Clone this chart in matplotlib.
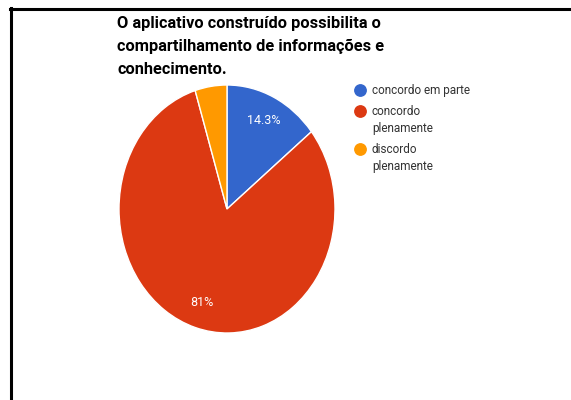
import matplotlib.pyplot as plt
from matplotlib.lines import Line2D

# data
labels = ['concordo em parte', 'concordo\nplenamente', 'discordo\nplenamente']
counts = [3, 17, 1]
colors = ['#3366cc', '#dc3912', '#ff9900']
title_lines = ['O aplicativo construído possibilita o',
               'compartilhamento de informações e',
               'conhecimento.']

W, H = 571, 400
fig = plt.figure(figsize=(W / 100, H / 100), dpi=100)

def px(x, y):
    # pixel coords (from top-left) -> figure fraction
    return x / W, 1 - y / H

# pie axes (picture is a bit squeezed sideways, so no equal aspect)
cx, cy, rx, ry = 227, 209, 108, 124
ax = fig.add_axes([(cx - rx) / W, (H - cy - ry) / H, 2 * rx / W, 2 * ry / H])

def fmt(p):
    if p < 5:
        return ''
    s = f'{p:.1f}'.rstrip('0').rstrip('.')
    return s + '%'

wedges, texts, autotexts = ax.pie(counts, colors=colors, startangle=90, counterclock=False,
                                  autopct=fmt, pctdistance=0.79,
                                  wedgeprops=dict(edgecolor='white', linewidth=1),
                                  textprops=dict(color='white', fontsize=9, family='Roboto'))
ax.set_aspect('auto')
ax.set_xlim(-1, 1)
ax.set_ylim(-1, 1)
ax.axis('off')

# title, one line at a time
for line, base in zip(title_lines, [28, 51, 74]):
    fig.text(*px(117, base), line, ha='left', va='baseline', fontsize=11.8,
             fontweight='bold', family='Roboto', color='#000000')

# legend drawn by hand
leg_y = [90, 111, 149]
leg_base = [[94], [115, 132], [153, 170]]
for c, lab, y, bases in zip(colors, labels, leg_y, leg_base):
    fig.add_artist(Line2D([360 / W], [1 - y / H], marker='o', markersize=8.2,
                          color=c, linestyle='none'))
    for part, b in zip(lab.split('\n'), bases):
        fig.text(*px(372, b), part, ha='left', va='baseline', fontsize=8.5,
                 family='Roboto', color='#333333')

# frame lines of the screenshot
fig.add_artist(Line2D([11 / W, 11 / W], [0, 1 - 8 / H], color='black', linewidth=2.2))
fig.add_artist(Line2D([10 / W, 1], [1 - 9 / H, 1 - 9 / H], color='black', linewidth=2.2))

fig.savefig('out.png', dpi=100)
